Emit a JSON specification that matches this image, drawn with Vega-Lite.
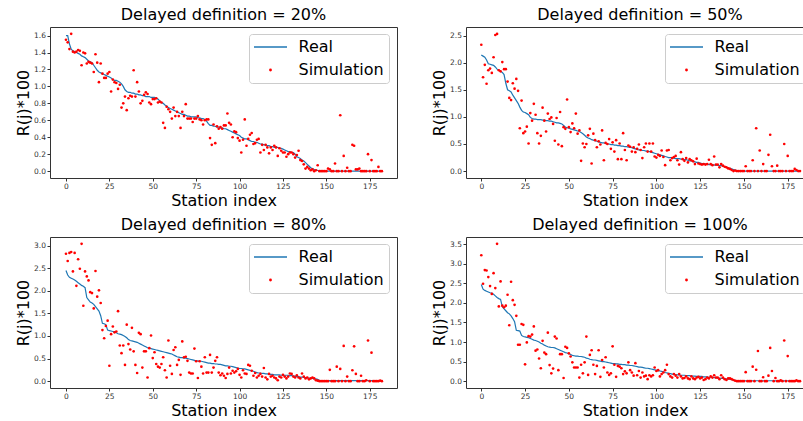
{
  "$schema": "https://vega.github.io/schema/vega-lite/v6.json",
  "padding": {"left": 15, "top": 6, "right": 0, "bottom": 0},
  "background": "white",
  "config": {
    "font": "DejaVu Sans",
    "view": {"stroke": "#333333", "strokeWidth": 1},
    "axis": {"domain": false, "grid": false, "tickSize": 3, "tickColor": "#333333", "labelFontSize": 7.5, "labelColor": "#333333", "labelPadding": 1.5, "labelOverlap": false, "labelSeparation": 0, "labelFlush": false, "labelBound": false, "titleFontSize": 16, "titleFontWeight": "normal", "titleColor": "#000000", "titlePadding": 2},
    "axisY": {"labelOverlap": false},
    "axisQuantitative": {"labelOverlap": false},
    "title": {"fontSize": 16, "fontWeight": "normal", "color": "#000000", "offset": 4, "baseline": "alphabetic"},
    "legend": {"orient": "none", "legendX": 199, "legendY": 7, "title": null, "labelFontSize": 16, "labelColor": "#000000", "symbolSize": 196, "symbolStrokeWidth": 1.3, "symbolOffset": 8.5, "labelOffset": 20, "rowPadding": 7, "padding": 5, "fillColor": "rgba(255,255,255,0.8)", "strokeColor": "#cccccc", "cornerRadius": 3}
  },
  "datasets": {
    "d20": [
      {"i":0,"r":1.60,"s":1.55},{"i":1,"r":1.60,"s":1.52},{"i":2,"r":1.50,"s":1.44},{"i":3,"r":1.44,"s":1.62},{"i":4,"r":1.42,"s":1.41},{"i":5,"r":1.41,"s":1.40},{"i":6,"r":1.40,"s":1.41},{"i":7,"r":1.39,"s":1.43},{"i":8,"r":1.38,"s":1.42},{"i":9,"r":1.36,"s":1.25},
      {"i":10,"r":1.35,"s":1.40},{"i":11,"r":1.34,"s":1.39},{"i":12,"r":1.32,"s":1.27},{"i":13,"r":1.30,"s":1.29},{"i":14,"r":1.29,"s":1.28},{"i":15,"r":1.28,"s":1.27},{"i":16,"r":1.25,"s":1.17},{"i":17,"r":1.22,"s":1.38},{"i":18,"r":1.19,"s":1.28},{"i":19,"r":1.17,"s":1.05},
      {"i":20,"r":1.16,"s":1.27},{"i":21,"r":1.15,"s":1.15},{"i":22,"r":1.14,"s":1.10},{"i":23,"r":1.13,"s":1.10},{"i":24,"r":1.12,"s":1.15},{"i":25,"r":1.11,"s":1.17},{"i":26,"r":1.10,"s":0.94},{"i":27,"r":1.08,"s":1.08},{"i":28,"r":1.07,"s":1.05},{"i":29,"r":1.07,"s":1.04},
      {"i":30,"r":1.06,"s":0.97},{"i":31,"r":1.05,"s":1.02},{"i":32,"r":1.03,"s":0.75},{"i":33,"r":1.00,"s":0.80},{"i":34,"r":0.96,"s":0.88},{"i":35,"r":0.94,"s":0.72},{"i":36,"r":0.93,"s":0.86},{"i":37,"r":0.93,"s":0.89},{"i":38,"r":0.92,"s":0.88},{"i":39,"r":0.92,"s":1.19},
      {"i":40,"r":0.91,"s":0.88},{"i":41,"r":0.91,"s":1.05},{"i":42,"r":0.90,"s":0.94},{"i":43,"r":0.90,"s":0.80},{"i":44,"r":0.89,"s":0.83},{"i":45,"r":0.89,"s":0.90},{"i":46,"r":0.88,"s":0.93},{"i":47,"r":0.88,"s":0.91},{"i":48,"r":0.88,"s":0.81},{"i":49,"r":0.87,"s":0.79},
      {"i":50,"r":0.87,"s":0.85},{"i":51,"r":0.87,"s":0.85},{"i":52,"r":0.86,"s":0.86},{"i":53,"r":0.85,"s":0.81},{"i":54,"r":0.83,"s":0.82},{"i":55,"r":0.81,"s":0.81},{"i":56,"r":0.80,"s":0.57},{"i":57,"r":0.78,"s":0.51},{"i":58,"r":0.77,"s":0.76},{"i":59,"r":0.75,"s":0.73},
      {"i":60,"r":0.74,"s":0.70},{"i":61,"r":0.73,"s":0.62},{"i":62,"r":0.72,"s":0.75},{"i":63,"r":0.71,"s":0.65},{"i":64,"r":0.70,"s":0.70},{"i":65,"r":0.69,"s":0.65},{"i":66,"r":0.68,"s":0.51},{"i":67,"r":0.67,"s":0.70},{"i":68,"r":0.67,"s":0.65},{"i":69,"r":0.66,"s":0.79},
      {"i":70,"r":0.65,"s":0.62},{"i":71,"r":0.65,"s":0.62},{"i":72,"r":0.64,"s":0.62},{"i":73,"r":0.64,"s":0.58},{"i":74,"r":0.64,"s":0.62},{"i":75,"r":0.64,"s":0.62},{"i":76,"r":0.63,"s":0.65},{"i":77,"r":0.63,"s":0.61},{"i":78,"r":0.62,"s":0.60},{"i":79,"r":0.62,"s":0.55},
      {"i":80,"r":0.61,"s":0.60},{"i":81,"r":0.59,"s":0.61},{"i":82,"r":0.56,"s":0.61},{"i":83,"r":0.54,"s":0.39},{"i":84,"r":0.54,"s":0.31},{"i":85,"r":0.53,"s":0.55},{"i":86,"r":0.53,"s":0.33},{"i":87,"r":0.52,"s":0.53},{"i":88,"r":0.52,"s":0.50},{"i":89,"r":0.51,"s":0.52},
      {"i":90,"r":0.51,"s":0.50},{"i":91,"r":0.50,"s":0.54},{"i":92,"r":0.50,"s":0.54},{"i":93,"r":0.49,"s":0.68},{"i":94,"r":0.48,"s":0.57},{"i":95,"r":0.47,"s":0.55},{"i":96,"r":0.46,"s":0.40},{"i":97,"r":0.45,"s":0.47},{"i":98,"r":0.44,"s":0.46},{"i":99,"r":0.43,"s":0.39},
      {"i":100,"r":0.42,"s":0.36},{"i":101,"r":0.40,"s":0.22},{"i":102,"r":0.39,"s":0.37},{"i":103,"r":0.38,"s":0.61},{"i":104,"r":0.38,"s":0.30},{"i":105,"r":0.37,"s":0.38},{"i":106,"r":0.36,"s":0.43},{"i":107,"r":0.35,"s":0.45},{"i":108,"r":0.35,"s":0.32},{"i":109,"r":0.34,"s":0.33},
      {"i":110,"r":0.34,"s":0.37},{"i":111,"r":0.33,"s":0.38},{"i":112,"r":0.32,"s":0.22},{"i":113,"r":0.32,"s":0.31},{"i":114,"r":0.31,"s":0.25},{"i":115,"r":0.31,"s":0.31},{"i":116,"r":0.30,"s":0.28},{"i":117,"r":0.30,"s":0.21},{"i":118,"r":0.29,"s":0.28},{"i":119,"r":0.29,"s":0.25},
      {"i":120,"r":0.28,"s":0.30},{"i":121,"r":0.28,"s":0.28},{"i":122,"r":0.28,"s":0.18},{"i":123,"r":0.27,"s":0.27},{"i":124,"r":0.27,"s":0.24},{"i":125,"r":0.26,"s":0.22},{"i":126,"r":0.25,"s":0.22},{"i":127,"r":0.24,"s":0.17},{"i":128,"r":0.23,"s":0.20},{"i":129,"r":0.23,"s":0.22},
      {"i":130,"r":0.22,"s":0.22},{"i":131,"r":0.22,"s":0.20},{"i":132,"r":0.20,"s":0.16},{"i":133,"r":0.17,"s":0.19},{"i":134,"r":0.16,"s":0.24},{"i":135,"r":0.15,"s":0.13},{"i":136,"r":0.13,"s":0.12},{"i":137,"r":0.12,"s":0.08},{"i":138,"r":0.10,"s":0.03},{"i":139,"r":0.08,"s":0.05},
      {"i":140,"r":0.06,"s":0.03},{"i":141,"r":0.04,"s":0.01},{"i":142,"r":0.03,"s":0.02},{"i":143,"r":0.02,"s":0.00},{"i":144,"r":0.01,"s":0.01},{"i":145,"r":0.01,"s":0.07},{"i":146,"r":0,"s":0},{"i":147,"r":0,"s":0},{"i":148,"r":0,"s":0},{"i":149,"r":0,"s":0},
      {"i":150,"r":0,"s":0},{"i":151,"r":0,"s":0.03},{"i":152,"r":0,"s":0.02},{"i":153,"r":0,"s":0},{"i":154,"r":0,"s":0},{"i":155,"r":0,"s":0.09},{"i":156,"r":0,"s":0},{"i":157,"r":0,"s":0},{"i":158,"r":0,"s":0.66},{"i":159,"r":0,"s":0},
      {"i":160,"r":0,"s":0.18},{"i":161,"r":0,"s":0},{"i":162,"r":0,"s":0.04},{"i":163,"r":0,"s":0},{"i":164,"r":0,"s":0},{"i":165,"r":0,"s":0.31},{"i":166,"r":0,"s":0.30},{"i":167,"r":0,"s":0.02},{"i":168,"r":0,"s":0.02},{"i":169,"r":0,"s":0.03},
      {"i":170,"r":0,"s":0},{"i":171,"r":0,"s":0},{"i":172,"r":0,"s":0},{"i":173,"r":0,"s":0},{"i":174,"r":0,"s":0.20},{"i":175,"r":0,"s":0},{"i":176,"r":0,"s":0.13},{"i":177,"r":0,"s":0},{"i":178,"r":0,"s":0},{"i":179,"r":0,"s":0},
      {"i":180,"r":0,"s":0.05},{"i":181,"r":0,"s":0},{"i":182,"r":0,"s":0}
    ],
    "d50": [
      {"i":0,"r":2.14,"s":2.33},{"i":1,"r":2.12,"s":1.73},{"i":2,"r":2.10,"s":1.96},{"i":3,"r":2.05,"s":1.61},{"i":4,"r":1.98,"s":1.86},{"i":5,"r":1.97,"s":1.89},{"i":6,"r":1.96,"s":1.81},{"i":7,"r":1.95,"s":2.10},{"i":8,"r":1.92,"s":2.51},{"i":9,"r":1.88,"s":2.53},
      {"i":10,"r":1.86,"s":1.86},{"i":11,"r":1.84,"s":1.84},{"i":12,"r":1.82,"s":2.01},{"i":13,"r":1.78,"s":1.88},{"i":14,"r":1.62,"s":1.88},{"i":15,"r":1.50,"s":1.65},{"i":16,"r":1.48,"s":1.35},{"i":17,"r":1.46,"s":1.31},{"i":18,"r":1.40,"s":1.62},{"i":19,"r":1.35,"s":1.52},
      {"i":20,"r":1.30,"s":1.70},{"i":21,"r":1.25,"s":1.48},{"i":22,"r":1.18,"s":0.79},{"i":23,"r":1.12,"s":1.30},{"i":24,"r":1.09,"s":0.70},{"i":25,"r":1.08,"s":0.73},{"i":26,"r":1.06,"s":0.82},{"i":27,"r":1.04,"s":0.51},{"i":28,"r":0.99,"s":1.07},{"i":29,"r":0.97,"s":0.93},
      {"i":30,"r":0.96,"s":1.24},{"i":31,"r":0.96,"s":1.04},{"i":32,"r":0.95,"s":0.70},{"i":33,"r":0.95,"s":0.51},{"i":34,"r":0.95,"s":0.65},{"i":35,"r":0.94,"s":1.17},{"i":36,"r":0.94,"s":0.93},{"i":37,"r":0.93,"s":0.73},{"i":38,"r":0.93,"s":1.06},{"i":39,"r":0.92,"s":0.96},
      {"i":40,"r":0.92,"s":0.99},{"i":41,"r":0.91,"s":0.87},{"i":42,"r":0.90,"s":0.56},{"i":43,"r":0.89,"s":0.98},{"i":44,"r":0.89,"s":0.49},{"i":45,"r":0.88,"s":1.09},{"i":46,"r":0.87,"s":0.46},{"i":47,"r":0.84,"s":0.81},{"i":48,"r":0.81,"s":0.78},{"i":49,"r":0.80,"s":1.32},
      {"i":50,"r":0.79,"s":0.81},{"i":51,"r":0.78,"s":0.72},{"i":52,"r":0.77,"s":0.88},{"i":53,"r":0.76,"s":0.79},{"i":54,"r":0.75,"s":1.06},{"i":55,"r":0.74,"s":0.69},{"i":56,"r":0.73,"s":0.75},{"i":57,"r":0.71,"s":0.19},{"i":58,"r":0.69,"s":0.51},{"i":59,"r":0.66,"s":0.44},
      {"i":60,"r":0.63,"s":0.50},{"i":61,"r":0.61,"s":0.66},{"i":62,"r":0.60,"s":0.78},{"i":63,"r":0.58,"s":0.14},{"i":64,"r":0.57,"s":0.69},{"i":65,"r":0.56,"s":0.57},{"i":66,"r":0.55,"s":0.44},{"i":67,"r":0.54,"s":0.55},{"i":68,"r":0.53,"s":0.49},{"i":69,"r":0.52,"s":0.75},
      {"i":70,"r":0.52,"s":0.20},{"i":71,"r":0.51,"s":0.52},{"i":72,"r":0.50,"s":0.50},{"i":73,"r":0.50,"s":0.59},{"i":74,"r":0.49,"s":0.41},{"i":75,"r":0.49,"s":0.53},{"i":76,"r":0.48,"s":0.36},{"i":77,"r":0.48,"s":0.57},{"i":78,"r":0.47,"s":0.22},{"i":79,"r":0.47,"s":0.51},
      {"i":80,"r":0.46,"s":0.22},{"i":81,"r":0.46,"s":0.70},{"i":82,"r":0.45,"s":0.39},{"i":83,"r":0.45,"s":0.20},{"i":84,"r":0.44,"s":0.47},{"i":85,"r":0.44,"s":0.45},{"i":86,"r":0.43,"s":0.36},{"i":87,"r":0.42,"s":0.44},{"i":88,"r":0.41,"s":0.35},{"i":89,"r":0.40,"s":0.41},
      {"i":90,"r":0.39,"s":0.49},{"i":91,"r":0.39,"s":0.39},{"i":92,"r":0.38,"s":0.24},{"i":93,"r":0.38,"s":0.44},{"i":94,"r":0.37,"s":0.51},{"i":95,"r":0.37,"s":0.36},{"i":96,"r":0.36,"s":0.51},{"i":97,"r":0.35,"s":0.36},{"i":98,"r":0.34,"s":0.51},{"i":99,"r":0.33,"s":0.27},
      {"i":100,"r":0.32,"s":0.25},{"i":101,"r":0.31,"s":0.30},{"i":102,"r":0.30,"s":0.28},{"i":103,"r":0.29,"s":0.38},{"i":104,"r":0.28,"s":0.26},{"i":105,"r":0.27,"s":0.11},{"i":106,"r":0.26,"s":0.38},{"i":107,"r":0.25,"s":0.39},{"i":108,"r":0.25,"s":0.20},{"i":109,"r":0.24,"s":0.24},
      {"i":110,"r":0.24,"s":0.26},{"i":111,"r":0.23,"s":0.28},{"i":112,"r":0.23,"s":0.20},{"i":113,"r":0.23,"s":0.12},{"i":114,"r":0.22,"s":0.35},{"i":115,"r":0.22,"s":0.22},{"i":116,"r":0.21,"s":0.19},{"i":117,"r":0.21,"s":0.24},{"i":118,"r":0.20,"s":0.16},{"i":119,"r":0.19,"s":0.22},
      {"i":120,"r":0.19,"s":0.20},{"i":121,"r":0.18,"s":0.18},{"i":122,"r":0.17,"s":0.13},{"i":123,"r":0.16,"s":0.23},{"i":124,"r":0.16,"s":0.14},{"i":125,"r":0.15,"s":0.13},{"i":126,"r":0.14,"s":0.12},{"i":127,"r":0.14,"s":0.13},{"i":128,"r":0.13,"s":0.12},{"i":129,"r":0.13,"s":0.13},
      {"i":130,"r":0.12,"s":0.21},{"i":131,"r":0.12,"s":0.13},{"i":132,"r":0.12,"s":0.11},{"i":133,"r":0.11,"s":0.27},{"i":134,"r":0.11,"s":0.12},{"i":135,"r":0.11,"s":0.12},{"i":136,"r":0.10,"s":0.07},{"i":137,"r":0.10,"s":0.13},{"i":138,"r":0.09,"s":0.10},{"i":139,"r":0.08,"s":0.08},
      {"i":140,"r":0.07,"s":0.07},{"i":141,"r":0.06,"s":0.05},{"i":142,"r":0.05,"s":0.04},{"i":143,"r":0.04,"s":0.02},{"i":144,"r":0.03,"s":0},{"i":145,"r":0.02,"s":0.01},{"i":146,"r":0.01,"s":0},{"i":147,"r":0,"s":0},{"i":148,"r":0,"s":0},{"i":149,"r":0,"s":0},
      {"i":150,"r":0,"s":0},{"i":151,"r":0,"s":0.09},{"i":152,"r":0,"s":0},{"i":153,"r":0,"s":0},{"i":154,"r":0,"s":0},{"i":155,"r":0,"s":0.20},{"i":156,"r":0,"s":0},{"i":157,"r":0,"s":0.79},{"i":158,"r":0,"s":0},{"i":159,"r":0,"s":0.38},
      {"i":160,"r":0,"s":0},{"i":161,"r":0,"s":0.13},{"i":162,"r":0,"s":0},{"i":163,"r":0,"s":0},{"i":164,"r":0,"s":0.30},{"i":165,"r":0,"s":0.67},{"i":166,"r":0,"s":0.09},{"i":167,"r":0,"s":0},{"i":168,"r":0,"s":0},{"i":169,"r":0,"s":0.10},
      {"i":170,"r":0,"s":0},{"i":171,"r":0,"s":0},{"i":172,"r":0,"s":0},{"i":173,"r":0,"s":0.50},{"i":174,"r":0,"s":0},{"i":175,"r":0,"s":0.28},{"i":176,"r":0,"s":0},{"i":177,"r":0,"s":0},{"i":178,"r":0,"s":0},{"i":179,"r":0,"s":0.04},
      {"i":180,"r":0,"s":0.02},{"i":181,"r":0,"s":0},{"i":182,"r":0,"s":0}
    ],
    "d80": [
      {"i":0,"r":2.45,"s":2.82},{"i":1,"r":2.35,"s":2.66},{"i":2,"r":2.30,"s":2.84},{"i":3,"r":2.28,"s":2.86},{"i":4,"r":2.26,"s":2.43},{"i":5,"r":2.24,"s":2.84},{"i":6,"r":2.21,"s":2.11},{"i":7,"r":2.18,"s":2.70},{"i":8,"r":2.15,"s":2.49},{"i":9,"r":2.12,"s":3.04},
      {"i":10,"r":2.10,"s":1.67},{"i":11,"r":2.07,"s":2.43},{"i":12,"r":1.85,"s":2.32},{"i":13,"r":1.80,"s":2.23},{"i":14,"r":1.75,"s":1.97},{"i":15,"r":1.73,"s":1.95},{"i":16,"r":1.70,"s":1.61},{"i":17,"r":1.65,"s":2.44},{"i":18,"r":1.60,"s":1.87},{"i":19,"r":1.55,"s":2.01},
      {"i":20,"r":1.45,"s":1.73},{"i":21,"r":1.28,"s":1.13},{"i":22,"r":1.27,"s":0.95},{"i":23,"r":1.25,"s":1.22},{"i":24,"r":1.13,"s":1.34},{"i":25,"r":1.12,"s":0.34},{"i":26,"r":1.11,"s":1.04},{"i":27,"r":1.10,"s":1.21},{"i":28,"r":1.09,"s":1.08},{"i":29,"r":1.07,"s":1.10},
      {"i":30,"r":1.05,"s":1.55},{"i":31,"r":1.04,"s":0.79},{"i":32,"r":1.03,"s":0.62},{"i":33,"r":1.01,"s":0.79},{"i":34,"r":0.99,"s":0.36},{"i":35,"r":0.96,"s":1.25},{"i":36,"r":0.92,"s":0.82},{"i":37,"r":0.90,"s":0.70},{"i":38,"r":0.89,"s":1.18},{"i":39,"r":0.88,"s":0.66},
      {"i":40,"r":0.87,"s":0.36},{"i":41,"r":0.86,"s":0.18},{"i":42,"r":0.84,"s":1.07},{"i":43,"r":0.82,"s":1.04},{"i":44,"r":0.80,"s":0.30},{"i":45,"r":0.78,"s":0.66},{"i":46,"r":0.76,"s":0.66},{"i":47,"r":0.74,"s":0.08},{"i":48,"r":0.73,"s":0.73},{"i":49,"r":0.72,"s":1.01},
      {"i":50,"r":0.71,"s":0.51},{"i":51,"r":0.70,"s":0.64},{"i":52,"r":0.69,"s":0.38},{"i":53,"r":0.68,"s":0.32},{"i":54,"r":0.67,"s":0.30},{"i":55,"r":0.66,"s":0.38},{"i":56,"r":0.65,"s":0.53},{"i":57,"r":0.64,"s":0.24},{"i":58,"r":0.63,"s":0.08},{"i":59,"r":0.62,"s":0.90},
      {"i":60,"r":0.61,"s":0.34},{"i":61,"r":0.60,"s":0.16},{"i":62,"r":0.58,"s":0.69},{"i":63,"r":0.56,"s":0.75},{"i":64,"r":0.54,"s":0.36},{"i":65,"r":0.53,"s":0.47},{"i":66,"r":0.52,"s":0.14},{"i":67,"r":0.52,"s":0.88},{"i":68,"r":0.51,"s":0.53},{"i":69,"r":0.51,"s":0.54},
      {"i":70,"r":0.50,"s":0.45},{"i":71,"r":0.49,"s":0.19},{"i":72,"r":0.48,"s":0.17},{"i":73,"r":0.47,"s":0.17},{"i":74,"r":0.46,"s":0.72},{"i":75,"r":0.45,"s":0.44},{"i":76,"r":0.45,"s":0.07},{"i":77,"r":0.44,"s":0.44},{"i":78,"r":0.44,"s":0.32},{"i":79,"r":0.43,"s":0.17},
      {"i":80,"r":0.42,"s":0.53},{"i":81,"r":0.41,"s":0.19},{"i":82,"r":0.40,"s":0.19},{"i":83,"r":0.40,"s":0.58},{"i":84,"r":0.39,"s":0.19},{"i":85,"r":0.39,"s":0.30},{"i":86,"r":0.38,"s":0.45},{"i":87,"r":0.38,"s":0.53},{"i":88,"r":0.37,"s":0.19},{"i":89,"r":0.37,"s":0.13},
      {"i":90,"r":0.36,"s":0.17},{"i":91,"r":0.35,"s":0.12},{"i":92,"r":0.34,"s":0.07},{"i":93,"r":0.34,"s":0.16},{"i":94,"r":0.33,"s":0.30},{"i":95,"r":0.33,"s":0.17},{"i":96,"r":0.32,"s":0.23},{"i":97,"r":0.31,"s":0.19},{"i":98,"r":0.30,"s":0.22},{"i":99,"r":0.29,"s":0.27},
      {"i":100,"r":0.28,"s":0.14},{"i":101,"r":0.28,"s":0.08},{"i":102,"r":0.27,"s":0.24},{"i":103,"r":0.27,"s":0.17},{"i":104,"r":0.26,"s":0.16},{"i":105,"r":0.25,"s":0.36},{"i":106,"r":0.24,"s":0.34},{"i":107,"r":0.23,"s":0.23},{"i":108,"r":0.22,"s":0.12},{"i":109,"r":0.20,"s":0.18},
      {"i":110,"r":0.19,"s":0.08},{"i":111,"r":0.18,"s":0.12},{"i":112,"r":0.18,"s":0.16},{"i":113,"r":0.17,"s":0.10},{"i":114,"r":0.17,"s":0.29},{"i":115,"r":0.16,"s":0.08},{"i":116,"r":0.16,"s":0.04},{"i":117,"r":0.15,"s":0.16},{"i":118,"r":0.15,"s":0.10},{"i":119,"r":0.15,"s":0.12},
      {"i":120,"r":0.14,"s":0.08},{"i":121,"r":0.14,"s":0.06},{"i":122,"r":0.14,"s":0.02},{"i":123,"r":0.14,"s":0.10},{"i":124,"r":0.13,"s":0.08},{"i":125,"r":0.13,"s":0.14},{"i":126,"r":0.13,"s":0.10},{"i":127,"r":0.13,"s":0.06},{"i":128,"r":0.13,"s":0.10},{"i":129,"r":0.12,"s":0.17},
      {"i":130,"r":0.12,"s":0.16},{"i":131,"r":0.11,"s":0.10},{"i":132,"r":0.11,"s":0.08},{"i":133,"r":0.10,"s":0.13},{"i":134,"r":0.10,"s":0.08},{"i":135,"r":0.09,"s":0.06},{"i":136,"r":0.09,"s":0.17},{"i":137,"r":0.08,"s":0.10},{"i":138,"r":0.08,"s":0.06},{"i":139,"r":0.07,"s":0.08},
      {"i":140,"r":0.07,"s":0.04},{"i":141,"r":0.06,"s":0.06},{"i":142,"r":0.06,"s":0.08},{"i":143,"r":0.05,"s":0.06},{"i":144,"r":0.05,"s":0.02},{"i":145,"r":0.04,"s":0.01},{"i":146,"r":0.02,"s":0},{"i":147,"r":0.01,"s":0},{"i":148,"r":0.01,"s":0},{"i":149,"r":0.01,"s":0},
      {"i":150,"r":0.01,"s":0},{"i":151,"r":0.01,"s":0},{"i":152,"r":0.01,"s":0.25},{"i":153,"r":0.01,"s":0},{"i":154,"r":0.01,"s":0},{"i":155,"r":0.01,"s":0},{"i":156,"r":0.01,"s":0.32},{"i":157,"r":0.01,"s":0},{"i":158,"r":0.01,"s":0.27},{"i":159,"r":0.01,"s":0},
      {"i":160,"r":0.01,"s":0.78},{"i":161,"r":0.01,"s":0},{"i":162,"r":0.01,"s":0.10},{"i":163,"r":0.01,"s":0},{"i":164,"r":0.01,"s":0},{"i":165,"r":0.01,"s":0.24},{"i":166,"r":0.01,"s":0.77},{"i":167,"r":0.01,"s":0.16},{"i":168,"r":0.01,"s":0},{"i":169,"r":0.01,"s":0},
      {"i":170,"r":0.01,"s":0.12},{"i":171,"r":0.01,"s":0},{"i":172,"r":0.01,"s":0},{"i":173,"r":0.01,"s":0.02},{"i":174,"r":0.01,"s":0.90},{"i":175,"r":0.01,"s":0},{"i":176,"r":0.01,"s":0.63},{"i":177,"r":0.01,"s":0},{"i":178,"r":0.01,"s":0},{"i":179,"r":0.01,"s":0},
      {"i":180,"r":0.01,"s":0},{"i":181,"r":0.01,"s":0.01},{"i":182,"r":0.01,"s":0}
    ],
    "d100": [
      {"i":0,"r":2.47,"s":3.22},{"i":1,"r":2.35,"s":2.49},{"i":2,"r":2.32,"s":2.84},{"i":3,"r":2.30,"s":2.83},{"i":4,"r":2.28,"s":2.66},{"i":5,"r":2.26,"s":2.43},{"i":6,"r":2.25,"s":2.23},{"i":7,"r":2.22,"s":2.76},{"i":8,"r":2.18,"s":2.38},{"i":9,"r":2.14,"s":3.51},
      {"i":10,"r":2.11,"s":1.91},{"i":11,"r":2.09,"s":2.55},{"i":12,"r":1.90,"s":1.93},{"i":13,"r":1.85,"s":1.89},{"i":14,"r":1.80,"s":1.93},{"i":15,"r":1.75,"s":2.21},{"i":16,"r":1.72,"s":1.43},{"i":17,"r":1.67,"s":2.54},{"i":18,"r":1.60,"s":2.07},{"i":19,"r":1.52,"s":1.95},
      {"i":20,"r":1.30,"s":1.67},{"i":21,"r":1.29,"s":0.93},{"i":22,"r":1.28,"s":0.93},{"i":23,"r":1.17,"s":1.46},{"i":24,"r":1.14,"s":1.44},{"i":25,"r":1.13,"s":0.43},{"i":26,"r":1.12,"s":0.99},{"i":27,"r":1.11,"s":1.15},{"i":28,"r":1.09,"s":1.14},{"i":29,"r":1.07,"s":1.19},
      {"i":30,"r":1.05,"s":1.40},{"i":31,"r":1.04,"s":0.78},{"i":32,"r":1.02,"s":0.81},{"i":33,"r":1.00,"s":0.58},{"i":34,"r":0.97,"s":0.33},{"i":35,"r":0.95,"s":1.03},{"i":36,"r":0.92,"s":0.73},{"i":37,"r":0.90,"s":0.69},{"i":38,"r":0.88,"s":1.24},{"i":39,"r":0.87,"s":0.41},
      {"i":40,"r":0.86,"s":0.20},{"i":41,"r":0.86,"s":0.32},{"i":42,"r":0.85,"s":1.14},{"i":43,"r":0.83,"s":1.09},{"i":44,"r":0.81,"s":0.28},{"i":45,"r":0.79,"s":0.69},{"i":46,"r":0.77,"s":0.69},{"i":47,"r":0.75,"s":0.08},{"i":48,"r":0.73,"s":0.88},{"i":49,"r":0.72,"s":0.85},
      {"i":50,"r":0.70,"s":0.71},{"i":51,"r":0.68,"s":0.63},{"i":52,"r":0.66,"s":0.48},{"i":53,"r":0.65,"s":0.35},{"i":54,"r":0.64,"s":0.35},{"i":55,"r":0.64,"s":0.35},{"i":56,"r":0.63,"s":0.09},{"i":57,"r":0.63,"s":0.42},{"i":58,"r":0.62,"s":0.20},{"i":59,"r":0.61,"s":0.48},
      {"i":60,"r":0.59,"s":1.14},{"i":61,"r":0.58,"s":0.16},{"i":62,"r":0.56,"s":0.67},{"i":63,"r":0.55,"s":0.79},{"i":64,"r":0.54,"s":0.42},{"i":65,"r":0.54,"s":0.18},{"i":66,"r":0.53,"s":0.39},{"i":67,"r":0.52,"s":0.79},{"i":68,"r":0.51,"s":0.11},{"i":69,"r":0.50,"s":0.54},
      {"i":70,"r":0.50,"s":0.35},{"i":71,"r":0.49,"s":0.61},{"i":72,"r":0.48,"s":0.22},{"i":73,"r":0.47,"s":0.16},{"i":74,"r":0.46,"s":0.20},{"i":75,"r":0.45,"s":0.89},{"i":76,"r":0.45,"s":0.42},{"i":77,"r":0.44,"s":0.11},{"i":78,"r":0.44,"s":0.39},{"i":79,"r":0.43,"s":0.37},
      {"i":80,"r":0.43,"s":0.33},{"i":81,"r":0.42,"s":0.18},{"i":82,"r":0.42,"s":0.25},{"i":83,"r":0.41,"s":0.20},{"i":84,"r":0.41,"s":0.48},{"i":85,"r":0.40,"s":0.28},{"i":86,"r":0.40,"s":0.22},{"i":87,"r":0.39,"s":0.14},{"i":88,"r":0.38,"s":0.46},{"i":89,"r":0.37,"s":0.15},
      {"i":90,"r":0.36,"s":0.26},{"i":91,"r":0.36,"s":0.09},{"i":92,"r":0.35,"s":0.22},{"i":93,"r":0.34,"s":0.12},{"i":94,"r":0.33,"s":0.14},{"i":95,"r":0.33,"s":0.05},{"i":96,"r":0.32,"s":0.15},{"i":97,"r":0.31,"s":0.12},{"i":98,"r":0.30,"s":0.15},{"i":99,"r":0.29,"s":0.35},
      {"i":100,"r":0.28,"s":0.26},{"i":101,"r":0.27,"s":0.28},{"i":102,"r":0.26,"s":0.12},{"i":103,"r":0.25,"s":0.18},{"i":104,"r":0.24,"s":0.22},{"i":105,"r":0.22,"s":0.28},{"i":106,"r":0.21,"s":0.42},{"i":107,"r":0.20,"s":0.18},{"i":108,"r":0.19,"s":0.12},{"i":109,"r":0.18,"s":0.09},
      {"i":110,"r":0.17,"s":0.18},{"i":111,"r":0.17,"s":0.14},{"i":112,"r":0.16,"s":0.09},{"i":113,"r":0.16,"s":0.18},{"i":114,"r":0.15,"s":0.12},{"i":115,"r":0.15,"s":0.07},{"i":116,"r":0.15,"s":0.08},{"i":117,"r":0.14,"s":0.12},{"i":118,"r":0.14,"s":0.07},{"i":119,"r":0.14,"s":0.05},
      {"i":120,"r":0.13,"s":0.12},{"i":121,"r":0.13,"s":0.07},{"i":122,"r":0.13,"s":0.05},{"i":123,"r":0.12,"s":0.09},{"i":124,"r":0.12,"s":0.11},{"i":125,"r":0.12,"s":0.07},{"i":126,"r":0.12,"s":0.09},{"i":127,"r":0.11,"s":0.03},{"i":128,"r":0.11,"s":0.05},{"i":129,"r":0.11,"s":0.09},
      {"i":130,"r":0.10,"s":0.07},{"i":131,"r":0.10,"s":0.12},{"i":132,"r":0.10,"s":0.09},{"i":133,"r":0.09,"s":0.15},{"i":134,"r":0.09,"s":0.09},{"i":135,"r":0.08,"s":0.09},{"i":136,"r":0.08,"s":0.05},{"i":137,"r":0.07,"s":0.15},{"i":138,"r":0.07,"s":0.09},{"i":139,"r":0.06,"s":0.05},
      {"i":140,"r":0.06,"s":0.03},{"i":141,"r":0.05,"s":0.07},{"i":142,"r":0.05,"s":0.07},{"i":143,"r":0.04,"s":0.05},{"i":144,"r":0.03,"s":0.03},{"i":145,"r":0.02,"s":0.01},{"i":146,"r":0.01,"s":0},{"i":147,"r":0.01,"s":0},{"i":148,"r":0.01,"s":0},{"i":149,"r":0.01,"s":0},
      {"i":150,"r":0.01,"s":0},{"i":151,"r":0.01,"s":0.23},{"i":152,"r":0.01,"s":0},{"i":153,"r":0.01,"s":0},{"i":154,"r":0.01,"s":0},{"i":155,"r":0.01,"s":0.37},{"i":156,"r":0.01,"s":0},{"i":157,"r":0.01,"s":0.29},{"i":158,"r":0.01,"s":0.77},{"i":159,"r":0.01,"s":0},
      {"i":160,"r":0.01,"s":0},{"i":161,"r":0.01,"s":0.10},{"i":162,"r":0.01,"s":0},{"i":163,"r":0.01,"s":0},{"i":164,"r":0.01,"s":0.14},{"i":165,"r":0.01,"s":0.85},{"i":166,"r":0.01,"s":0.26},{"i":167,"r":0.01,"s":0},{"i":168,"r":0.01,"s":0.08},{"i":169,"r":0.01,"s":0},
      {"i":170,"r":0.01,"s":0},{"i":171,"r":0.01,"s":0.02},{"i":172,"r":0.01,"s":0},{"i":173,"r":0.01,"s":1.04},{"i":174,"r":0.01,"s":0},{"i":175,"r":0.01,"s":0.64},{"i":176,"r":0.01,"s":0},{"i":177,"r":0.01,"s":0},{"i":178,"r":0.01,"s":0},{"i":179,"r":0.01,"s":0},
      {"i":180,"r":0.01,"s":0.02},{"i":181,"r":0.01,"s":0},{"i":182,"r":0.01,"s":0}
    ]
  },
  "columns": 2,
  "spacing": {"row": 59, "column": 69},
  "bounds": "flush",
  "resolve": {"scale": {"color": "independent"}, "legend": {"color": "independent"}},
  "concat": [
    {
      "width": 347, "height": 151,
      "title": {"text": "Delayed definition = 20%"},
      "data": {"name": "d20"},
      "layer": [
        {
          "mark": {"type": "line", "strokeWidth": 1.2},
          "encoding": {
            "x": {"field": "i", "type": "quantitative", "title": "Station index", "scale": {"domain": [-9.2, 190.7], "nice": false, "zero": false}, "axis": {"values": [0, 25, 50, 75, 100, 125, 150, 175], "labelOverlap": false}},
            "y": {"field": "r", "type": "quantitative", "title": "R(j)*100", "scale": {"domain": [-0.081, 1.701], "nice": false, "zero": false}, "axis": {"values": [0, 0.2, 0.4, 0.6, 0.8, 1.0, 1.2, 1.4, 1.6], "format": ".1f", "labelOverlap": false}},
            "color": {"datum": "Real", "type": "nominal", "scale": {"domain": ["Real", "Simulation"], "range": ["#1f77b4", "red"]},
              "legend": {"encode": {"symbols": {"update": {"shape": {"signal": "datum.value === 'Real' ? 'M-2.357,0H2.357' : 'circle'"}, "size": {"signal": "datum.value === 'Real' ? 196 : 8"}, "stroke": {"signal": "datum.value === 'Real' ? '#1f77b4' : 'red'"}, "fill": {"signal": "datum.value === 'Real' ? 'transparent' : 'red'"}, "strokeWidth": {"signal": "datum.value === 'Real' ? 1.3 : 0"}, "opacity": {"value": 1}}}}}}
          }
        },
        {
          "mark": {"type": "point", "filled": true, "size": 7, "opacity": 1},
          "encoding": {
            "x": {"field": "i", "type": "quantitative", "title": "Station index", "axis": {"values": [0, 25, 50, 75, 100, 125, 150, 175], "labelOverlap": false}},
            "y": {"field": "s", "type": "quantitative", "title": "R(j)*100", "axis": {"values": [0, 0.2, 0.4, 0.6, 0.8, 1.0, 1.2, 1.4, 1.6], "format": ".1f", "labelOverlap": false}},
            "color": {"datum": "Simulation", "type": "nominal"}
          }
        }
      ]
    },
    {
      "width": 338, "height": 151,
      "title": {"text": "Delayed definition = 50%", "dx": 5},
      "data": {"name": "d50"},
      "layer": [
        {
          "mark": {"type": "line", "strokeWidth": 1.2},
          "encoding": {
            "x": {"field": "i", "type": "quantitative", "title": "Station index", "scale": {"domain": [-8.74, 184.3], "nice": false, "zero": false}, "axis": {"values": [0, 25, 50, 75, 100, 125, 150, 175], "labelOverlap": false}},
            "y": {"field": "r", "type": "quantitative", "title": "R(j)*100", "scale": {"domain": [-0.127, 2.657], "nice": false, "zero": false}, "axis": {"values": [0, 0.5, 1.0, 1.5, 2.0, 2.5], "format": ".1f", "labelOverlap": false}},
            "color": {"datum": "Real", "type": "nominal", "scale": {"domain": ["Real", "Simulation"], "range": ["#1f77b4", "red"]},
              "legend": {"encode": {"symbols": {"update": {"shape": {"signal": "datum.value === 'Real' ? 'M-2.357,0H2.357' : 'circle'"}, "size": {"signal": "datum.value === 'Real' ? 196 : 8"}, "stroke": {"signal": "datum.value === 'Real' ? '#1f77b4' : 'red'"}, "fill": {"signal": "datum.value === 'Real' ? 'transparent' : 'red'"}, "strokeWidth": {"signal": "datum.value === 'Real' ? 1.3 : 0"}, "opacity": {"value": 1}}}}}}
          }
        },
        {
          "mark": {"type": "point", "filled": true, "size": 7, "opacity": 1},
          "encoding": {
            "x": {"field": "i", "type": "quantitative", "title": "Station index", "axis": {"values": [0, 25, 50, 75, 100, 125, 150, 175], "labelOverlap": false}},
            "y": {"field": "s", "type": "quantitative", "title": "R(j)*100", "axis": {"values": [0, 0.5, 1.0, 1.5, 2.0, 2.5], "format": ".1f", "labelOverlap": false}},
            "color": {"datum": "Simulation", "type": "nominal"}
          }
        }
      ]
    },
    {
      "width": 347, "height": 151,
      "title": {"text": "Delayed definition = 80%"},
      "data": {"name": "d80"},
      "layer": [
        {
          "mark": {"type": "line", "strokeWidth": 1.2},
          "encoding": {
            "x": {"field": "i", "type": "quantitative", "title": "Station index", "scale": {"domain": [-9.2, 190.7], "nice": false, "zero": false}, "axis": {"values": [0, 25, 50, 75, 100, 125, 150, 175], "labelOverlap": false}},
            "y": {"field": "r", "type": "quantitative", "title": "R(j)*100", "scale": {"domain": [-0.152, 3.192], "nice": false, "zero": false}, "axis": {"values": [0, 0.5, 1.0, 1.5, 2.0, 2.5, 3.0], "format": ".1f", "labelOverlap": false}},
            "color": {"datum": "Real", "type": "nominal", "scale": {"domain": ["Real", "Simulation"], "range": ["#1f77b4", "red"]},
              "legend": {"encode": {"symbols": {"update": {"shape": {"signal": "datum.value === 'Real' ? 'M-2.357,0H2.357' : 'circle'"}, "size": {"signal": "datum.value === 'Real' ? 196 : 8"}, "stroke": {"signal": "datum.value === 'Real' ? '#1f77b4' : 'red'"}, "fill": {"signal": "datum.value === 'Real' ? 'transparent' : 'red'"}, "strokeWidth": {"signal": "datum.value === 'Real' ? 1.3 : 0"}, "opacity": {"value": 1}}}}}}
          }
        },
        {
          "mark": {"type": "point", "filled": true, "size": 7, "opacity": 1},
          "encoding": {
            "x": {"field": "i", "type": "quantitative", "title": "Station index", "axis": {"values": [0, 25, 50, 75, 100, 125, 150, 175], "labelOverlap": false}},
            "y": {"field": "s", "type": "quantitative", "title": "R(j)*100", "axis": {"values": [0, 0.5, 1.0, 1.5, 2.0, 2.5, 3.0], "format": ".1f", "labelOverlap": false}},
            "color": {"datum": "Simulation", "type": "nominal"}
          }
        }
      ]
    },
    {
      "width": 338, "height": 151,
      "title": {"text": "Delayed definition = 100%", "dx": 5},
      "data": {"name": "d100"},
      "layer": [
        {
          "mark": {"type": "line", "strokeWidth": 1.2},
          "encoding": {
            "x": {"field": "i", "type": "quantitative", "title": "Station index", "scale": {"domain": [-8.74, 184.3], "nice": false, "zero": false}, "axis": {"values": [0, 25, 50, 75, 100, 125, 150, 175], "labelOverlap": false}},
            "y": {"field": "r", "type": "quantitative", "title": "R(j)*100", "scale": {"domain": [-0.1755, 3.6855], "nice": false, "zero": false}, "axis": {"values": [0, 0.5, 1.0, 1.5, 2.0, 2.5, 3.0, 3.5], "format": ".1f", "labelOverlap": false}},
            "color": {"datum": "Real", "type": "nominal", "scale": {"domain": ["Real", "Simulation"], "range": ["#1f77b4", "red"]},
              "legend": {"encode": {"symbols": {"update": {"shape": {"signal": "datum.value === 'Real' ? 'M-2.357,0H2.357' : 'circle'"}, "size": {"signal": "datum.value === 'Real' ? 196 : 8"}, "stroke": {"signal": "datum.value === 'Real' ? '#1f77b4' : 'red'"}, "fill": {"signal": "datum.value === 'Real' ? 'transparent' : 'red'"}, "strokeWidth": {"signal": "datum.value === 'Real' ? 1.3 : 0"}, "opacity": {"value": 1}}}}}}
          }
        },
        {
          "mark": {"type": "point", "filled": true, "size": 7, "opacity": 1},
          "encoding": {
            "x": {"field": "i", "type": "quantitative", "title": "Station index", "axis": {"values": [0, 25, 50, 75, 100, 125, 150, 175], "labelOverlap": false}},
            "y": {"field": "s", "type": "quantitative", "title": "R(j)*100", "axis": {"values": [0, 0.5, 1.0, 1.5, 2.0, 2.5, 3.0, 3.5], "format": ".1f", "labelOverlap": false}},
            "color": {"datum": "Simulation", "type": "nominal"}
          }
        }
      ]
    }
  ]
}
